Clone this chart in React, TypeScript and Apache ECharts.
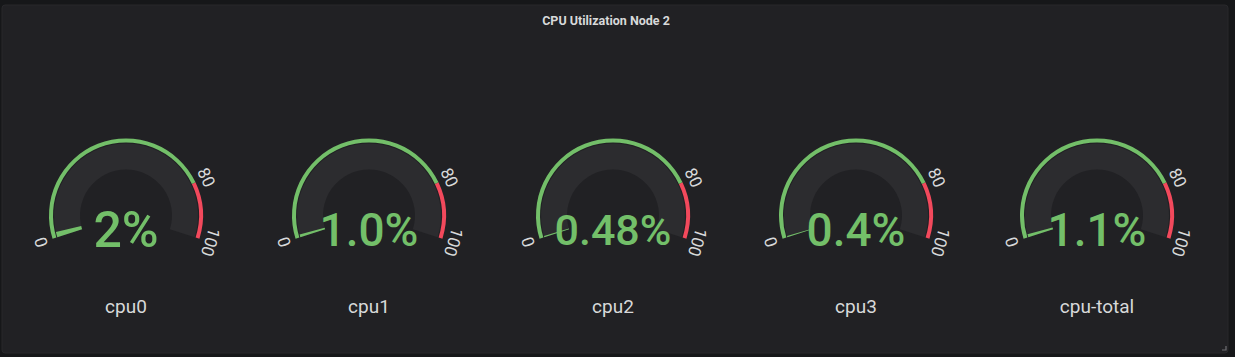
import React, { useEffect, useRef } from "react";
import * as echarts from "echarts";

const panelTitle = "CPU Utilization Node 2";
const categories = ["cpu0", "cpu1", "cpu2", "cpu3", "cpu-total"];
const values = [2, 1.0, 0.48, 0.4, 1.1];
const decimals = [0, 1, 2, 1, 1];
const valueFontSizes = [50, 46, 43, 46, 46];
const gaugeMin = 0;
const gaugeMax = 100;
const thresholds = [80];
const tickLabels = [0, 80, 100];

const GREEN = "#73BF69";
const RED = "#F2495C";
const TEXT = "#d8d9da";
const FONT = "Roboto, 'Helvetica Neue', Arial, sans-serif";

const centersX = [126, 369, 613, 856, 1097];
const CY = 215.5;

function colorFor(v: number) {
  return v >= thresholds[0] ? RED : GREEN;
}

export default function App() {
  const ref = useRef<HTMLDivElement>(null);
  useEffect(() => {
    if (!ref.current) return;
    const chart = echarts.init(ref.current, undefined, { renderer: "svg" });
    const frac = (thresholds[0] - gaugeMin) / (gaugeMax - gaugeMin);
    const series: any[] = [];
    categories.forEach((name, i) => {
      const center = [centersX[i], CY];
      // threshold ring with labels
      series.push({
        type: "gauge",
        center,
        radius: 77,
        startAngle: 197.5,
        endAngle: -17.5,
        min: gaugeMin,
        max: gaugeMax,
        splitNumber: 5,
        axisLine: { lineStyle: { width: 4, color: [[frac, GREEN], [1, RED]] } },
        progress: { show: false },
        pointer: { show: false },
        anchor: { show: false },
        axisTick: { show: false },
        splitLine: { show: false, length: 0, distance: 0 },
        axisLabel: {
          show: true,
          distance: -12,
          rotate: "tangential",
          color: TEXT,
          fontSize: 17,
          fontFamily: FONT,
          formatter: (v: number) => (tickLabels.indexOf(Math.round(v)) >= 0 ? String(Math.round(v)) : ""),
        },
        title: { show: false },
        detail: { show: false },
        data: [{ value: 0, name: "" }],
      });
      // value band
      series.push({
        type: "gauge",
        center,
        radius: 72,
        startAngle: 197.5,
        endAngle: -17.5,
        min: gaugeMin,
        max: gaugeMax,
        axisLine: { lineStyle: { width: 26, color: [[1, "#2c2c2f"]] } },
        progress: { show: true, width: 26, itemStyle: { color: colorFor(values[i]) } },
        pointer: { show: false },
        anchor: { show: false },
        axisTick: { show: false },
        splitLine: { show: false },
        axisLabel: { show: false },
        title: {
          show: true,
          offsetCenter: [0, 90.5],
          color: TEXT,
          fontSize: 19,
          fontFamily: FONT,
        },
        detail: {
          show: true,
          offsetCenter: [0, 14.5],
          valueAnimation: false,
          color: colorFor(values[i]),
          fontSize: valueFontSizes[i],
          fontFamily: FONT,
          fontWeight: 500,
          formatter: (v: number) => v.toFixed(decimals[i]) + "%",
        },
        data: [{ value: values[i], name }],
      });
    });

    chart.setOption({
      animation: false,
      backgroundColor: "#161719",
      graphic: [
        {
          type: "rect",
          shape: { x: 2, y: 5, width: 1226, height: 348, r: 3 },
          style: { fill: "#212124", stroke: "#28282b", lineWidth: 1 },
          z: -10,
        },
        {
          type: "text",
          x: 606,
          y: 20,
          style: {
            text: panelTitle,
            fill: TEXT,
            font: `bold 12.5px ${FONT}`,
            textAlign: "center",
            textVerticalAlign: "middle",
          },
        },
        {
          type: "polyline",
          shape: { points: [[1222, 350], [1226, 350], [1226, 346]] },
          style: { stroke: "#6e6e72", lineWidth: 1.2, fill: "none" },
        },
      ],
      series,
    });
    return () => chart.dispose();
  }, []);
  return (
    <div
      ref={ref}
      style={{ position: "fixed", left: 0, top: 0, width: 1235, height: 357 }}
    />
  );
}
